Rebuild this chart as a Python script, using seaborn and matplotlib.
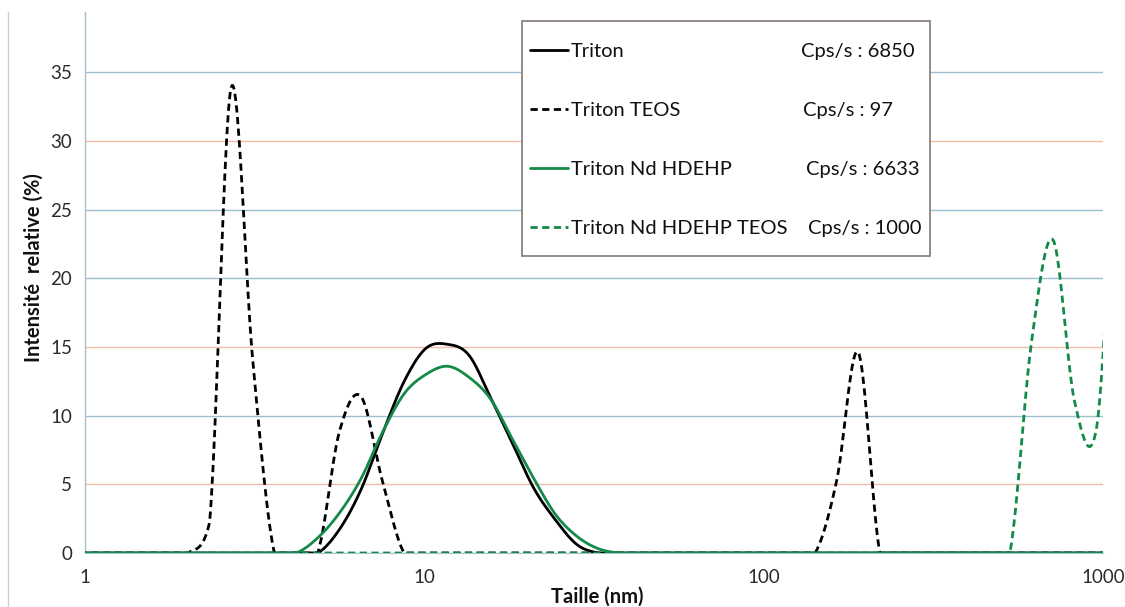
import numpy as np
import matplotlib.pyplot as plt
import seaborn as sns
from matplotlib.patches import Rectangle
from matplotlib.lines import Line2D

sns.set_style('white')
plt.rcParams['font.family'] = ['Lato', 'DejaVu Sans']

# Classes de taille DLS (nm)
taille = [0.965, 1.117, 1.294, 1.499, 1.736, 2.010, 2.328, 2.696, 3.122, 3.615,
          4.187, 4.849, 5.615, 6.503, 7.531, 8.721, 10.10, 11.70, 13.54, 15.69,
          18.17, 21.04, 24.36, 28.21, 32.67, 37.84, 43.82, 50.75, 58.77, 68.06,
          78.82, 91.28, 105.7, 122.4, 141.8, 164.2, 190.1, 220.2, 255.0, 295.3,
          342.0, 396.1, 458.7, 531.2, 615.1, 712.4, 825.0, 955.4, 1106, 1281]

# Intensité relative (%)
triton = ([0] * 11 + [0, 1.7, 4.6, 8.7, 12.5, 14.9, 15.2, 14.4, 11.3, 8.0, 4.7, 2.4, 0.6, 0]
          + [0] * 25)
triton_teos = ([0] * 5 + [0, 2.2, 33.9, 14.0, 0, 0, 0, 8.8, 11.4, 5.2, 0] + [0] * 18
               + [0, 5.3, 14.6, 0] + [0] * 12)
triton_nd = ([0] * 10 + [0, 1.1, 2.9, 5.4, 8.8, 11.6, 13.0, 13.6, 12.8, 11.2, 8.3, 5.4, 2.8, 1.2, 0.3, 0]
             + [0] * 24)
triton_nd_teos = [0] * 43 + [0, 15.3, 22.8, 11.0, 9.0, 28, 15]

noms = ['Triton', 'Triton TEOS', 'Triton Nd HDEHP', 'Triton Nd HDEHP TEOS']
cps = ['Cps/s : 6850', 'Cps/s : 97', 'Cps/s : 6633', 'Cps/s : 1000']

NOIR = '#000000'
VERT = '#138a48'
BLEU_GRILLE = '#9dbdd0'
ORANGE_GRILLE = '#f2bca6'

KX = 24.7  # unités y par décade à l'écran (rapport d'aspect du tracé)


def lissage_excel(x, y, n=24):
    """Ligne lissée type Excel (Bézier Catmull-Rom) à travers les points mesurés."""
    P = np.column_stack([np.log10(x) * KX, np.asarray(y, float)])
    m = len(P)
    T = np.zeros_like(P)
    T[1:-1] = P[2:] - P[:-2]
    T[0] = P[1] - P[0]
    T[-1] = P[-1] - P[-2]
    morceaux = []
    for i in range(m - 1):
        c1 = P[i] + T[i] / 6
        c2 = P[i + 1] - T[i + 1] / 6
        c1[1] = max(c1[1], 0)
        c2[1] = max(c2[1], 0)
        t = np.linspace(0, 1, n, endpoint=(i == m - 2))[:, None]
        morceaux.append((1 - t) ** 3 * P[i] + 3 * (1 - t) ** 2 * t * c1
                        + 3 * (1 - t) * t ** 2 * c2 + t ** 3 * P[i + 1])
    c = np.vstack(morceaux)
    return 10 ** (c[:, 0] / KX), c[:, 1]


fig = plt.figure(figsize=(11.25, 6.07), dpi=100, facecolor='white')
ax = fig.add_axes([85 / 1125, 54 / 607, 1018 / 1125, 541 / 607])
ax.set_xscale('log')

styles = [(triton, NOIR, '-'),
          (triton_teos, NOIR, (0, (2.6, 1.6))),
          (triton_nd, VERT, '-'),
          (triton_nd_teos, VERT, (0, (2.6, 1.6)))]
for (vals, col, ls), nom in zip(styles, noms):
    xs, ys = lissage_excel(taille, vals)
    sns.lineplot(x=xs, y=ys, ax=ax, color=col, lw=2.0, linestyle=ls,
                 label=nom, sort=False, estimator=None, zorder=3)

ax.set_xlim(1, 1000)
ax.set_ylim(0, 39.4)
ax.set_yticks(range(0, 40, 5))
ax.set_xticks([1, 10, 100, 1000])
ax.set_xticklabels(['1', '10', '100', '1000'])

# grille horizontale (couleurs alternées comme sur l'original)
ax.yaxis.grid(True)
couleurs_grille = [BLEU_GRILLE, ORANGE_GRILLE, BLEU_GRILLE, ORANGE_GRILLE,
                   BLEU_GRILLE, BLEU_GRILLE, ORANGE_GRILLE, BLEU_GRILLE]
for gl, c in zip(ax.get_ygridlines(), couleurs_grille):
    gl.set_color(c)
    gl.set_linewidth(1.0)
ax.xaxis.grid(False)

for s in ['top', 'right']:
    ax.spines[s].set_visible(False)
ax.spines['left'].set_color('#a9c0cf')
ax.spines['left'].set_linewidth(1.0)
ax.spines['bottom'].set_color('#a9c0cf')

ax.tick_params(axis='y', length=5.8, width=0.8, color='#a9bccb', pad=3.6,
               labelsize=13.5, labelcolor='#2b2b2b')
ax.tick_params(axis='x', which='major', length=4, width=0.8, color='#a9bccb',
               pad=7.5, labelsize=13.5, labelcolor='#2b2b2b')
ax.tick_params(axis='x', which='minor', length=3.5, width=0.8, color='#a9bccb')

ax.set_xlabel('Taille (nm)', fontsize=14.5, fontweight='bold', color='#111111')
ax.xaxis.label.set_va('center')
ax.xaxis.set_label_coords(0.503, -0.0813)
ax.set_ylabel('Intensité  relative (%)', fontsize=14.5, fontweight='bold', color='#111111')
ax.yaxis.label.set_va('center')
ax.yaxis.set_label_coords(-0.050, 0.527)

# légende avec cadre et valeurs Cps/s
cadre = Rectangle((0.4293, 0.549), 0.4008, 0.4344, transform=ax.transAxes,
                  facecolor='white', edgecolor='#8e817c', lw=1.3, zorder=4.5, clip_on=False)
ax.add_patch(cadre)
leg = ax.legend(loc='upper left', bbox_to_anchor=(0.437, 0.943), frameon=False,
                fontsize=14.5, handlelength=1.9, handletextpad=0.15, labelspacing=2.08,
                borderpad=0, borderaxespad=0)
leg.set_zorder(5)
for t in leg.get_texts():
    t.set_color('#111111')

fig.canvas.draw()
r = fig.canvas.get_renderer()
for txt, c, xc in zip(leg.get_texts(), cps, [0.7036, 0.7050, 0.7085, 0.7102]):
    bb = txt.get_window_extent(r)
    yc = ax.transAxes.inverted().transform((0, (bb.y0 + bb.y1) / 2))[1]
    ax.text(xc, yc, c, transform=ax.transAxes, va='center', ha='left',
            fontsize=14.5, color='#111111', zorder=6)

# bord gauche de la zone de graphique
fig.add_artist(Line2D([8 / 1125, 8 / 1125], [0, 595 / 607], transform=fig.transFigure,
                      color='#d8c9c6', lw=1.0))

fig.savefig('out.png', dpi=100)
